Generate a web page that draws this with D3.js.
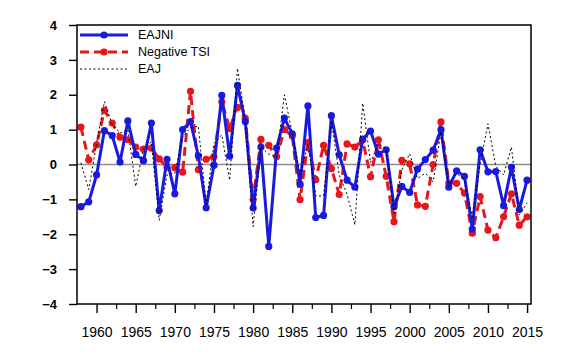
<!DOCTYPE html>
<html>
<head>
<meta charset="utf-8">
<script src="https://cdn.jsdelivr.net/npm/d3@7"></script>
<style>
  html, body { margin: 0; padding: 0; background: #fff; }
  svg { display: block; }
</style>
</head>
<body>
<svg id="chart" width="575" height="364"></svg>
<script>
const years = d3.range(1958, 2016);

const eajni = [
  -1.21, -1.07, -0.30, 0.97, 0.83, 0.07, 1.25, 0.29, 0.11, 1.19,
  -1.32, 0.15, -0.84, 1.00, 1.23, 0.25, -1.24, -0.02, 1.98, 0.24,
  2.27, 1.23, -1.25, 0.50, -2.35, 0.47, 1.33, 0.88, -0.56, 1.68,
  -1.52, -1.46, 1.40, 0.28, -0.45, -0.65, 0.73, 0.96, 0.30, 0.42,
  -1.21, -0.63, -0.80, -0.13, 0.14, 0.41, 1.00, -0.65, -0.18, -0.34,
  -1.85, 0.42, -0.21, -0.20, -1.18, -0.08, -1.29, -0.45
];

const negTSI = [
  1.07, 0.13, 0.56, 1.55, 1.19, 0.78, 0.71, 0.50, 0.44, 0.47,
  0.16, -0.08, -0.09, -0.22, 2.10, -0.15, 0.15, 0.23, 1.80, 1.03,
  1.64, 1.32, -1.01, 0.72, 0.55, 0.23, 1.00, 0.82, -1.01, 0.63,
  -0.44, 0.55, -0.12, -0.86, 0.59, 0.50, 0.70, -0.35, 0.71, -0.34,
  -1.64, 0.12, 0.02, -1.16, -1.20, 0.00, 1.22, -0.53, -0.54, -0.82,
  -1.97, -0.92, -1.88, -2.10, -1.50, -0.84, -1.74, -1.50
];

const eaj = [
  0.05, -0.72, 0.60, 1.80, 1.15, 0.90, 1.00, -0.63, 0.45, 0.65,
  -1.60, -0.30, -0.25, 0.80, 1.05, 1.10, -1.15, 0.60, 0.85, -0.45,
  2.76, 1.30, -1.78, 0.50, 0.30, 0.20, 2.00, 0.90, -0.30, 0.60,
  -0.90, -0.90, 1.25, -0.30, -0.85, -1.73, 1.76, 0.05, 0.60, 0.45,
  -1.40, -0.15, 0.31, -0.40, -0.25, -0.50, 0.95, -0.63, -0.25, -0.45,
  -1.50, 0.00, 1.17, -0.05, -0.30, 0.50, -1.45, -1.10
];

const xMajorTicks = [1960, 1965, 1970, 1975, 1980, 1985, 1990, 1995, 2000, 2005, 2010, 2015];
const xMinorTicks = [1962.5, 1967.5, 1972.5, 1977.5, 1982.5, 1987.5, 1992.5, 1997.5, 2002.5, 2007.5, 2012.5];
const yTicks = [-4, -3, -2, -1, 0, 1, 2, 3, 4];
const seriesNames = ["EAJNI", "Negative TSI", "EAJ"];

const svg = d3.select("#chart");
const L = 77, R = 531, T = 25, B = 304;

const x = d3.scaleLinear().domain([1957.5, 2015.5]).range([L, R]);
const y = d3.scaleLinear().domain([-4, 4]).range([B, T]);

const font = "'Liberation Sans', Arial, Helvetica, sans-serif";

// zero reference line
svg.append("line")
  .attr("x1", L).attr("x2", R)
  .attr("y1", y(0)).attr("y2", y(0))
  .attr("stroke", "#8c8c8c").attr("stroke-width", 1.6);

// axes
const yAxis = d3.axisLeft(y).tickValues(yTicks).tickSize(8).tickPadding(12).tickFormat(d3.format("d"));
const gy = svg.append("g").attr("transform", `translate(${L},0)`).call(yAxis);
gy.select(".domain").remove();
gy.selectAll("line").attr("stroke", "#000").attr("stroke-width", 1.4);
gy.selectAll("text").attr("font-family", font).attr("font-size", 13).attr("font-weight", "bold").attr("fill", "#000");

const xAxis = d3.axisBottom(x).tickValues(xMajorTicks).tickSize(9).tickPadding(14).tickFormat(d3.format("d"));
const gx = svg.append("g").attr("transform", `translate(0,${B})`).call(xAxis);
gx.select(".domain").remove();
gx.selectAll("line").attr("stroke", "#000").attr("stroke-width", 1.4);
gx.selectAll("text").attr("font-family", font).attr("font-size", 14).attr("fill", "#000");

const xMinor = d3.axisBottom(x).tickValues(xMinorTicks).tickSize(5).tickFormat("");
const gxm = svg.append("g").attr("transform", `translate(0,${B})`).call(xMinor);
gxm.select(".domain").remove();
gxm.selectAll("line").attr("stroke", "#000").attr("stroke-width", 1.2);

// series
const line = d3.line().x((d, i) => x(years[i])).y(d => y(d));

const tsiColor = "#e8161b";
const eajniColor = "#1a1adf";

svg.append("path").datum(negTSI)
  .attr("d", line).attr("fill", "none")
  .attr("stroke", tsiColor).attr("stroke-width", 3)
  .attr("stroke-dasharray", "9,5");
svg.append("g").selectAll("circle").data(negTSI).join("circle")
  .attr("cx", (d, i) => x(years[i])).attr("cy", d => y(d))
  .attr("r", 3.6).attr("fill", tsiColor);

svg.append("path").datum(eajni)
  .attr("d", line).attr("fill", "none")
  .attr("stroke", eajniColor).attr("stroke-width", 3)
  .attr("stroke-linejoin", "round");
svg.append("g").selectAll("circle").data(eajni).join("circle")
  .attr("cx", (d, i) => x(years[i])).attr("cy", d => y(d))
  .attr("r", 3.6).attr("fill", eajniColor);

svg.append("path").datum(eaj)
  .attr("d", line).attr("fill", "none")
  .attr("stroke", "#000").attr("stroke-width", 1)
  .attr("stroke-dasharray", "2,2.5");

// frame
svg.append("rect")
  .attr("x", L).attr("y", T).attr("width", R - L).attr("height", B - T)
  .attr("fill", "none").attr("stroke", "#000").attr("stroke-width", 1.5);

// legend
const legY = [35, 52, 69];
const lg = svg.append("g");
lg.append("line").attr("x1", 80).attr("x2", 128).attr("y1", legY[0]).attr("y2", legY[0])
  .attr("stroke", eajniColor).attr("stroke-width", 3);
lg.append("circle").attr("cx", 104).attr("cy", legY[0]).attr("r", 3.6).attr("fill", eajniColor);
lg.append("line").attr("x1", 80).attr("x2", 128).attr("y1", legY[1]).attr("y2", legY[1])
  .attr("stroke", tsiColor).attr("stroke-width", 3).attr("stroke-dasharray", "9,5");
lg.append("circle").attr("cx", 104).attr("cy", legY[1]).attr("r", 3.6).attr("fill", tsiColor);
lg.append("line").attr("x1", 80).attr("x2", 128).attr("y1", legY[2]).attr("y2", legY[2])
  .attr("stroke", "#000").attr("stroke-width", 1).attr("stroke-dasharray", "2,2.5");

lg.selectAll("text.leg").data(seriesNames).join("text")
  .attr("class", "leg")
  .attr("x", 138).attr("y", (d, i) => legY[i])
  .attr("dy", "0.35em")
  .attr("font-family", font).attr("font-size", 12.5).attr("fill", "#000")
  .text(d => d);
</script>
</body>
</html>
